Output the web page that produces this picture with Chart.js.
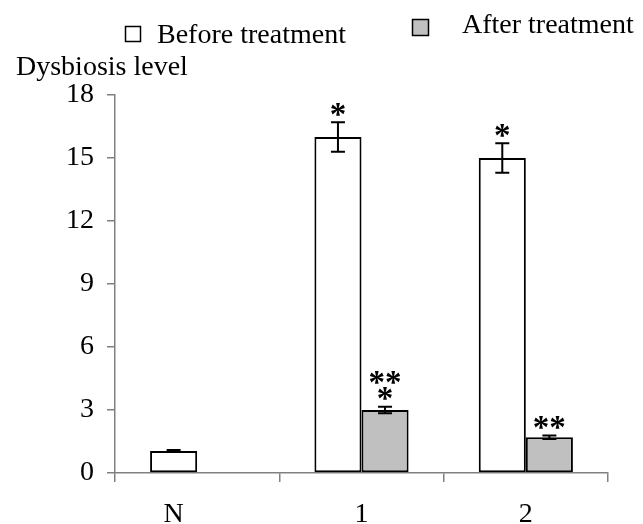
<!DOCTYPE html>
<html>
<head>
<meta charset="utf-8">
<script src="https://cdn.jsdelivr.net/npm/chart.js@4.4.1/dist/chart.umd.min.js"></script>
<style>
    html, body { margin: 0; padding: 0; background: #fff; }
    #wrap { width: 643px; height: 524px; }
</style>
</head>
<body>
<div id="wrap"><canvas id="dysbiosisChart" width="643" height="524"></canvas></div>
<script>
const categories = ['N', '1', '2'];
const beforeValues = [1.05, 16, 15];
const afterValues = [null, 3, 1.7];
const beforeErrors = [0.05, 0.7, 0.7];
const afterErrors = [null, 0.16, 0.08];
const beforeMarks = [[], ['*'], ['*']];
const afterMarks = [[], ['**', '*'], ['**']];
const yTicks = [0, 3, 6, 9, 12, 15, 18];

const serif = '"Liberation Serif", "Times New Roman", serif';
const axisGray = '#808080';

// error bars, asterisks, category labels, legend and axis title
const annotations = {
    id: 'annotations',
    afterDatasetsDraw(chart) {
        const ctx = chart.ctx;
        const y = chart.scales.y;
        const sets = [
            {values: beforeValues, errors: beforeErrors, marks: beforeMarks},
            {values: afterValues, errors: afterErrors, marks: afterMarks}
        ];
        ctx.save();
        sets.forEach((set, di) => {
            const meta = chart.getDatasetMeta(di);
            meta.data.forEach((bar, i) => {
                const v = set.values[i];
                if (v === null) return;
                const err = set.errors[i] || 0;
                const top = y.getPixelForValue(v + err);
                const bottom = y.getPixelForValue(v - err);
                ctx.strokeStyle = '#000';
                ctx.lineWidth = 2;
                ctx.beginPath();
                ctx.moveTo(bar.x, top);
                ctx.lineTo(bar.x, bottom);
                ctx.moveTo(bar.x - 7, top);
                ctx.lineTo(bar.x + 7, top);
                ctx.moveTo(bar.x - 7, bottom);
                ctx.lineTo(bar.x + 7, bottom);
                ctx.stroke();

                // asterisks stacked above the error bar, last row closest
                ctx.fillStyle = '#000';
                ctx.font = 'bold 33px ' + serif;
                ctx.textAlign = 'center';
                ctx.textBaseline = 'alphabetic';
                const rows = set.marks[i];
                rows.forEach((txt, r) => {
                    const m = ctx.measureText(txt);
                    const cy = top - 13 - (rows.length - 1 - r) * 16;
                    const base = cy + (m.actualBoundingBoxAscent - m.actualBoundingBoxDescent) / 2;
                    ctx.fillText(txt, bar.x, base);
                });
            });
        });

        // category labels; a group with only one bar is labelled under that bar
        ctx.font = '28px ' + serif;
        ctx.textAlign = 'center';
        ctx.fillStyle = '#000';
        categories.forEach((c, i) => {
            let x = chart.scales.x.getPixelForValue(i);
            if (afterValues[i] === null) x = chart.getDatasetMeta(0).data[i].x;
            ctx.fillText(c, x, 522);
        });

        // axis title
        ctx.textAlign = 'left';
        ctx.fillText('Dysbiosis level', 16, 75);

        // legend
        ctx.lineWidth = 1.5;
        ctx.strokeStyle = '#000';
        ctx.fillStyle = '#fff';
        ctx.fillRect(125.5, 26.5, 15, 15);
        ctx.strokeRect(125.5, 26.5, 15, 15);
        ctx.fillStyle = '#c0c0c0';
        ctx.fillRect(412.5, 19.5, 16, 16);
        ctx.strokeRect(412.5, 19.5, 16, 16);
        ctx.fillStyle = '#000';
        ctx.fillText('Before treatment', 157, 43);
        ctx.fillText('After treatment', 462, 33);
        ctx.restore();
    }
};

const ctx = document.getElementById('dysbiosisChart');
const dysbiosisChart = new Chart(ctx, {
    type: 'bar',
    data: {
        labels: categories,
        datasets: [
            {
                label: 'Before treatment',
                data: beforeValues,
                backgroundColor: '#ffffff',
                borderColor: '#000000',
                borderWidth: 2,
                borderSkipped: false
            },
            {
                label: 'After treatment',
                data: afterValues,
                backgroundColor: '#c0c0c0',
                borderColor: '#000000',
                borderWidth: 2,
                borderSkipped: false
            }
        ]
    },
    options: {
        responsive: false,
        animation: false,
        events: [],
        layout: {padding: {top: 95, right: 35, bottom: 0, left: 0}},
        datasets: {bar: {categoryPercentage: 0.573, barPercentage: 1}},
        plugins: {
            legend: {display: false},
            tooltip: {enabled: false}
        },
        scales: {
            x: {
                grid: {offset: true, drawOnChartArea: false, tickLength: 9, color: axisGray, lineWidth: 1.5},
                border: {color: axisGray, width: 1.5},
                ticks: {display: false},
                afterFit(scale) {
                    scale.height = 51;
                    scale.paddingLeft = 0;
                    scale.paddingRight = 0;
                }
            },
            y: {
                min: 0,
                max: 18,
                afterBuildTicks(scale) {
                    scale.ticks = yTicks.map(v => ({value: v}));
                },
                grid: {drawOnChartArea: false, tickLength: 8, color: axisGray, lineWidth: 1.5},
                border: {color: axisGray, width: 1.5},
                ticks: {
                    color: '#000',
                    padding: 13,
                    font: {family: serif, size: 28}
                },
                afterFit(scale) {
                    scale.width = 115;
                    scale.paddingTop = 0;
                    scale.paddingBottom = 0;
                }
            }
        }
    },
    plugins: [annotations]
});
</script>
</body>
</html>
